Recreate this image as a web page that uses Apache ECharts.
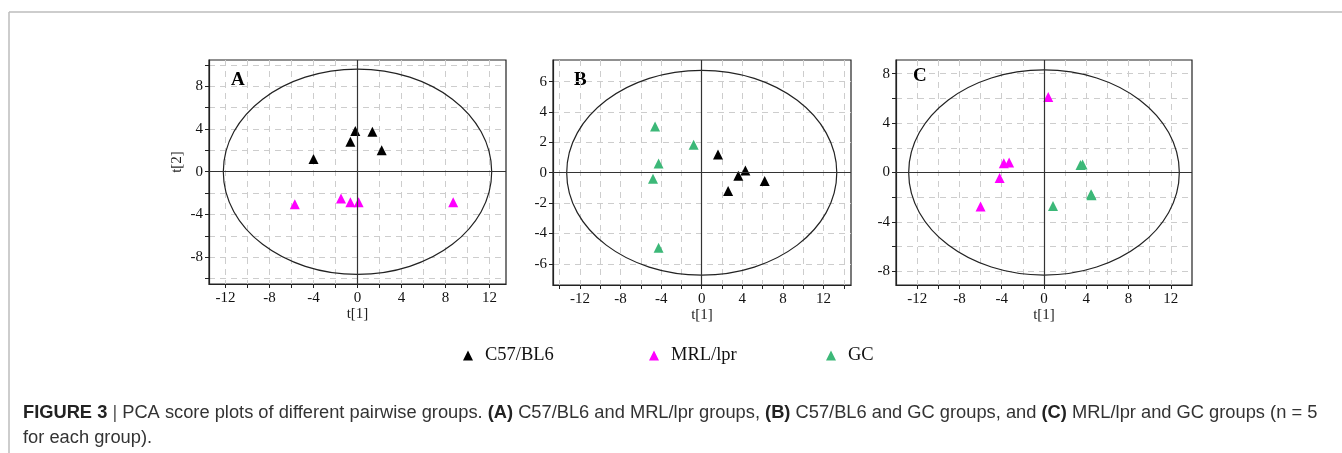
<!DOCTYPE html>
<html lang="en">
<head>
    <meta charset="UTF-8">
    <title>PCA score plots</title>
    <style>
        html, body { margin: 0; padding: 0; background: #fff; }
        #chart { width: 1342px; height: 453px; }
    </style>
</head>
<body>
    <div id="chart"></div>
    <script src="https://cdn.jsdelivr.net/npm/echarts/dist/echarts.min.js"></script>
    <script>
        // groups
        let groupNames = ['C57/BL6', 'MRL/lpr', 'GC'];
        let groupColors = ['#000000', '#ff00ff', '#3cb878'];

        // panel A: C57/BL6 vs MRL/lpr
        let c57A = [[-4.0, 1.2], [-0.65, 2.8], [-0.2, 3.8], [1.35, 3.75], [2.2, 2.0]];
        let mrlA = [[-5.7, -3.05], [-1.5, -2.5], [-0.65, -2.85], [0.1, -2.85], [8.7, -2.85]];
        // panel B: C57/BL6 vs GC
        let c57B = [[1.6, 1.2], [3.6, -0.2], [4.3, 0.15], [6.2, -0.55], [2.6, -1.2]];
        let gcB = [[-4.6, 3.05], [-0.8, 1.85], [-4.25, 0.6], [-4.8, -0.4], [-4.25, -4.95]];
        // panel C: MRL/lpr vs GC
        let mrlC = [[0.4, 6.1], [-3.8, 0.75], [-3.3, 0.8], [-4.2, -0.45], [-6.0, -2.75]];
        let gcC = [[3.45, 0.6], [3.65, 0.65], [4.45, -1.75], [4.5, -1.85], [0.85, -2.7]];

        // Hotelling ellipse semi-axes [t1, t2]
        let ellipseA = [12.2, 9.6];
        let ellipseB = [13.3, 6.75];
        let ellipseC = [12.8, 8.3];

        // tick labels and grid positions
        let xLabels = [-12, -8, -4, 0, 4, 8, 12];
        let xGridA = [-12, -10, -8, -6, -4, -2, 0, 2, 4, 6, 8, 10, 12];
        let xGridB = [-14, -12, -10, -8, -6, -4, -2, 0, 2, 4, 6, 8, 10, 12, 14];
        let xGridC = [-12, -10, -8, -6, -4, -2, 0, 2, 4, 6, 8, 10, 12];
        let yLabelsA = [-8, -4, 0, 4, 8];
        let yGridA = [-10, -8, -6, -4, -2, 0, 2, 4, 6, 8, 10];
        let yLabelsB = [-6, -4, -2, 0, 2, 4, 6];
        let yGridB = [-6, -4, -2, 0, 2, 4, 6];
        let yLabelsC = [-8, -4, 0, 4, 8];
        let yGridC = [-8, -6, -4, -2, 0, 2, 4, 6, 8];

        let serif = '"Liberation Serif", "Times New Roman", serif';
        let sans = '"Liberation Sans", Arial, sans-serif';

        function makeAxis(index, dim, min, max, labels, grid, name) {
            let axis = {
                type: 'value',
                gridIndex: index,
                min: min,
                max: max,
                axisLine: { show: true, onZero: false, lineStyle: { color: '#222', width: 1.2 } },
                axisTick: { show: true, length: 4, customValues: grid, lineStyle: { color: '#222' } },
                axisLabel: {
                    customValues: labels,
                    color: '#111',
                    fontFamily: serif,
                    fontSize: 15,
                    margin: dim === 'x' ? 7 : 6
                },
                splitLine: { show: true, lineStyle: { color: '#cdcdcd', type: [6, 5], width: 1 } }
            };
            if (name) {
                axis.name = name;
                axis.nameLocation = 'middle';
                axis.nameGap = 22;
                axis.nameTextStyle = { fontFamily: serif, fontSize: 15, color: '#222' };
            }
            return axis;
        }

        function ellipseSeries(index, ell) {
            return {
                type: 'custom',
                xAxisIndex: index,
                yAxisIndex: index,
                silent: true,
                z: 1,
                data: [[0, 0, ell[0], ell[1]]],
                renderItem: function(params, api) {
                    let c = api.coord([api.value(0), api.value(1)]);
                    let e = api.coord([api.value(0) + api.value(2), api.value(1) + api.value(3)]);
                    return {
                        type: 'ellipse',
                        shape: { cx: c[0], cy: c[1], rx: Math.abs(e[0] - c[0]), ry: Math.abs(e[1] - c[1]) },
                        style: { fill: 'none', stroke: '#222', lineWidth: 1.2 }
                    };
                },
                markLine: {
                    silent: true,
                    symbol: ['none', 'none'],
                    label: { show: false },
                    lineStyle: { color: '#333', type: 'solid', width: 1.2 },
                    data: [{ xAxis: 0 }, { yAxis: 0 }]
                }
            };
        }

        function scatter(index, group, data) {
            return {
                type: 'scatter',
                name: groupNames[group],
                xAxisIndex: index,
                yAxisIndex: index,
                symbol: 'triangle',
                symbolSize: 10,
                z: 3,
                itemStyle: { color: groupColors[group], opacity: 1 },
                data: data
            };
        }

        // one legend per group, the gaps in the figure are not even
        function legendItem(i, left) {
            return {
                data: [{ name: groupNames[i], icon: 'triangle' }],
                left: left,
                top: 341,
                itemWidth: 10,
                itemHeight: 10,
                textStyle: { fontFamily: serif, fontSize: 18.5, color: '#111', padding: [0, 0, 0, 7] }
            };
        }

        let myChart = echarts.init(document.getElementById('chart'));

        let chartOption = {
            animation: false,
            backgroundColor: '#fff',
            grid: [
                { left: 209, top: 60, width: 297, height: 224, show: true, borderColor: '#222', borderWidth: 1.2 },
                { left: 553, top: 60, width: 298, height: 225, show: true, borderColor: '#222', borderWidth: 1.2 },
                { left: 896, top: 60, width: 296, height: 225, show: true, borderColor: '#222', borderWidth: 1.2 }
            ],
            xAxis: [
                makeAxis(0, 'x', -13.5, 13.5, xLabels, xGridA, 't[1]'),
                makeAxis(1, 'x', -14.65, 14.7, xLabels, xGridB, 't[1]'),
                makeAxis(2, 'x', -14, 14, xLabels, xGridC, 't[1]')
            ],
            yAxis: [
                makeAxis(0, 'y', -10.5, 10.45, yLabelsA, yGridA),
                makeAxis(1, 'y', -7.4, 7.43, yLabelsB, yGridB),
                makeAxis(2, 'y', -9.1, 9.1, yLabelsC, yGridC)
            ],
            legend: [
                legendItem(0, 458),
                legendItem(1, 644),
                legendItem(2, 821)
            ],
            series: [
                ellipseSeries(0, ellipseA),
                scatter(0, 0, c57A),
                scatter(0, 1, mrlA),
                ellipseSeries(1, ellipseB),
                scatter(1, 2, gcB),
                scatter(1, 0, c57B),
                ellipseSeries(2, ellipseC),
                scatter(2, 1, mrlC),
                scatter(2, 2, gcC)
            ],
            graphic: [
                // figure frame
                { type: 'line', shape: { x1: 9, y1: 12, x2: 1342, y2: 12 }, style: { stroke: '#bdbdbd', lineWidth: 1.5 } },
                { type: 'line', shape: { x1: 9, y1: 12, x2: 9, y2: 453 }, style: { stroke: '#bdbdbd', lineWidth: 1.5 } },
                // y axis name of panel A
                {
                    type: 'text', x: 177, y: 162, rotation: Math.PI / 2,
                    style: { text: 't[2]', font: '15px ' + serif, fill: '#222', align: 'center', verticalAlign: 'middle' }
                },
                // panel letters
                { type: 'text', left: 231, top: 71, style: { text: 'A', font: 'bold 19px ' + serif, fill: '#000' } },
                { type: 'text', left: 574, top: 71, style: { text: 'B', font: 'bold 19px ' + serif, fill: '#000' } },
                { type: 'text', left: 913, top: 67, style: { text: 'C', font: 'bold 19px ' + serif, fill: '#000' } },
                // caption
                {
                    type: 'text',
                    left: 23,
                    top: 400,
                    style: {
                        text: '{b|FIGURE 3} {bar||} PCA score plots of different pairwise groups. {b|(A)} C57/BL6 and MRL/lpr groups, {b|(B)} C57/BL6 and GC groups, and {b|(C)} MRL/lpr and GC groups (n = 5\nfor each group).',
                        font: '18.3px ' + sans,
                        fill: '#333',
                        lineHeight: 25,
                        rich: {
                            b: { font: 'bold 18.3px ' + sans, fill: '#222', lineHeight: 25 },
                            bar: { font: '18.3px ' + sans, fill: '#555', lineHeight: 25 }
                        }
                    }
                }
            ]
        };

        myChart.setOption(chartOption);
    </script>
</body>
</html>
